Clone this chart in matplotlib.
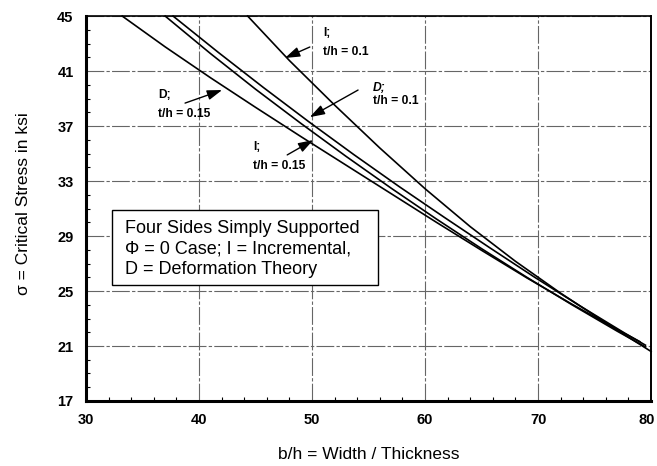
import matplotlib
matplotlib.use("Agg")
import matplotlib.pyplot as plt
import matplotlib.transforms as mtransforms
from matplotlib.patches import Rectangle

plt.rcParams['font.family'] = ['Liberation Sans', 'DejaVu Sans']

# Data
x_I01 = [44.3, 48, 52, 56, 60, 64, 68, 72, 76, 80]
y_I01 = [45.0, 41.76, 38.52, 35.4, 32.44, 29.68, 27.16, 24.84, 22.68, 20.6]

x_D01 = [37.7, 41.7, 45.7, 49.7, 53.7, 57.7, 61.7, 65.7, 69.7, 73.7, 77.7, 79.5]
y_D01 = [45.0, 42.36, 39.8, 37.32, 34.92, 32.6, 30.36, 28.16, 26.0, 23.92, 21.92, 21.06]

x_I015 = [37.0, 41, 45, 49, 53, 57, 61, 65, 69, 73, 77, 79.5]
y_I015 = [45.0, 42.28, 39.68, 37.2, 34.8, 32.48, 30.24, 28.08, 26.0, 24.0, 22.08, 20.93]

x_D015 = [33.2, 37, 41, 45, 49, 53, 57, 61, 65, 69, 73, 77, 79]
y_D015 = [45.0, 42.76, 40.52, 38.36, 36.24, 34.16, 32.08, 30.0, 27.96, 25.96, 24.04, 22.2, 21.32]

x_ticks = [30, 40, 50, 60, 70, 80]
y_ticks = [17, 21, 25, 29, 33, 37, 41, 45]

fig = plt.figure(figsize=(6.57, 4.66), dpi=100)
ax = fig.add_axes([0.131, 0.1395, 0.860, 0.826])

for xs, ys in [(x_I01, y_I01), (x_D01, y_D01), (x_I015, y_I015), (x_D015, y_D015)]:
    ax.plot(xs, ys, color='black', lw=1.2, zorder=3, clip_on=False)

ax.set_xlim(30, 80)
ax.set_ylim(17, 45)
ax.set_xticks(x_ticks)
ax.set_yticks(y_ticks)
ax.set_xticks(range(30, 81, 2), minor=True)
ax.set_yticks(range(17, 46, 1), minor=True)
ax.tick_params(which='major', direction='in', length=0, pad=9, labelsize=10.5)
ax.tick_params(which='minor', direction='in', length=3, width=0.8)
ax.tick_params(axis='y', which='minor', left=True, right=False)
ax.tick_params(axis='x', which='minor', bottom=True, top=False)
for lab in ax.get_xticklabels() + ax.get_yticklabels():
    lab.set_fontweight('bold')

# keep the last x tick label inside the canvas
fig.canvas.draw()
last = ax.get_xticklabels()[-1]
last.set_transform(last.get_transform() + mtransforms.ScaledTranslation(-4 / 100, 0, fig.dpi_scale_trans))

ax.grid(True, which='major', color='#666666', lw=0.8, linestyle=(0, (16, 2, 3, 2)), zorder=1)
ax.set_axisbelow(True)

ax.spines['left'].set_linewidth(2.2)
ax.spines['bottom'].set_linewidth(2.2)
ax.spines['top'].set_linewidth(1.2)
ax.spines['right'].set_linewidth(1.4)

ax.set_xlabel('b/h = Width / Thickness', fontsize=12.5, labelpad=14)
ax.set_ylabel('σ = Critical Stress in ksi', fontsize=12.5)
ax.yaxis.set_label_coords(-0.097, 0.513)

# Annotations: labels and arrows
txt_kw = dict(fontsize=8.7, fontweight='bold', ha='left', va='center', linespacing=1.8, zorder=5)
ax.text(50.97, 43.1, 'I;\nt/h = 0.1', **txt_kw)
ax.text(55.4, 39.76, 'D;', fontsize=8.7, fontweight='bold', fontstyle='italic',
        ha='left', va='center', zorder=5)
ax.text(55.4, 38.82, 't/h = 0.1', fontsize=8.7, fontweight='bold', ha='left', va='center', zorder=5)
ax.text(36.37, 38.56, 'D;\nt/h = 0.15', **txt_kw)
ax.text(44.78, 34.78, 'I;\nt/h = 0.15', **txt_kw)

arrow_props = dict(arrowstyle='-|>,head_length=0.9,head_width=0.3', color='black', lw=1.0,
                   shrinkA=0, shrinkB=0)
ax.annotate('', xy=(47.6, 41.95), xytext=(49.8, 42.75), arrowprops=arrow_props, zorder=5)
ax.annotate('', xy=(49.8, 37.65), xytext=(54.07, 39.62), arrowprops=arrow_props, zorder=5)
ax.annotate('', xy=(42.04, 39.62), xytext=(38.76, 38.67), arrowprops=arrow_props, zorder=5)
ax.annotate('', xy=(50.1, 35.98), xytext=(47.8, 34.9), arrowprops=arrow_props, zorder=5)

# Note box
ax.add_patch(Rectangle((0.046, 0.301), 0.471, 0.195, transform=ax.transAxes,
                       facecolor='white', edgecolor='black', lw=1.0, zorder=4))
ax.text(0.069, 0.394, 'Four Sides Simply Supported\nΦ = 0 Case; I = Incremental,\nD = Deformation Theory',
        transform=ax.transAxes, fontsize=13, ha='left', va='center', linespacing=1.28, zorder=5)

fig.savefig('out.png', dpi=100)
